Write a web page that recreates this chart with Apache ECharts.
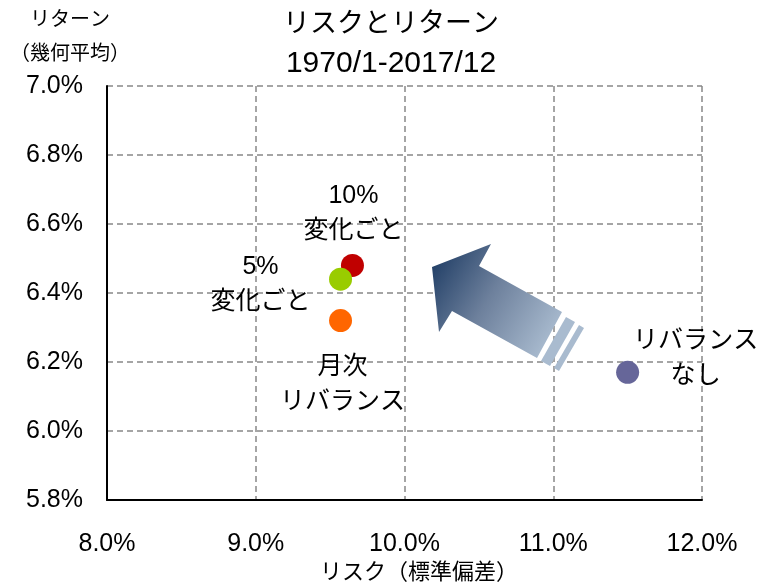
<!DOCTYPE html>
<html>
<head>
<meta charset="utf-8">
<script src="https://cdn.jsdelivr.net/npm/echarts@6/dist/echarts.min.js"></script>
<style>
  html, body { margin: 0; padding: 0; background: #fff; }
  #chart { width: 762px; height: 584px; }
</style>
</head>
<body>
<div id="chart"></div>
<script>
    // values
    const pointNames = ['10%\n変化ごと', '5%\n変化ごと', '月次\nリバランス', 'リバランス\nなし'];
    const riskValues = [9.65, 9.57, 9.57, 11.50];   // リスク（標準偏差） %
    const returnValues = [6.48, 6.44, 6.32, 6.17];  // リターン（幾何平均） %
    const xTicks = [8, 9, 10, 11, 12];
    const yTicks = [5.8, 6.0, 6.2, 6.4, 6.6, 6.8, 7.0];

    // styling per point
    const pointColors = ['#c00000', '#99cc00', '#ff6600', '#666699'];
    const labelOffsets = [[1, -52], [-80, 5], [2, 64], [68, -14]];

    const FONT = "'Liberation Sans', 'Noto Sans CJK JP', sans-serif";

    const myChart = echarts.init(document.getElementById('chart'));

    const option = {
        animation: false,
        textStyle: { fontFamily: FONT, color: '#000' },
        title: {
            left: 391,
            top: 5,
            textAlign: 'center',
            padding: 0,
            text: '{a|リスクとリターン}\n{b|1970/1-2017/12}',
            textStyle: {
                fontWeight: 'normal',
                rich: {
                    a: { fontFamily: FONT, fontSize: 27, lineHeight: 39, color: '#000', fontWeight: 'normal' },
                    b: { fontFamily: FONT, fontSize: 30, lineHeight: 39, color: '#000', fontWeight: 'normal' }
                }
            }
        },
        grid: {
            left: 107,
            right: 60,
            top: 86,
            bottom: 84,
            outerBoundsMode: 'none'
        },
        xAxis: {
            type: 'value',
            min: xTicks[0],
            max: xTicks[xTicks.length - 1],
            interval: 1,
            name: 'リスク（標準偏差）',
            nameLocation: 'middle',
            nameGap: 60,
            nameTextStyle: { fontSize: 22, fontFamily: FONT, color: '#000', padding: [0, 0, 0, 29] },
            axisLine: { lineStyle: { color: '#000', width: 2 } },
            axisTick: { show: false },
            axisLabel: {
                margin: 32,
                fontSize: 25,
                color: '#000',
                formatter: v => v.toFixed(1) + '%'
            },
            splitLine: { lineStyle: { color: '#888', type: [6, 4], width: 1.5 } }
        },
        yAxis: {
            type: 'value',
            min: yTicks[0],
            max: yTicks[yTicks.length - 1],
            interval: 0.2,
            name: 'リターン\n（幾何平均）',
            nameLocation: 'end',
            nameGap: 15,
            nameTextStyle: {
                fontSize: 20, fontFamily: FONT, color: '#000',
                lineHeight: 34, align: 'center', padding: [0, 74, 0, 0]
            },
            axisLine: { show: true, lineStyle: { color: '#000', width: 2 } },
            axisTick: { show: false },
            axisLabel: {
                margin: 24,
                fontSize: 25,
                color: '#000',
                formatter: v => v.toFixed(1) + '%'
            },
            splitLine: { lineStyle: { color: '#888', type: [6, 4], width: 1.5 } }
        },
        series: [
            {
                type: 'scatter',
                symbolSize: 23,
                z: 5,
                data: riskValues.map((x, i) => ({
                    value: [x, returnValues[i]],
                    name: pointNames[i],
                    itemStyle: { color: pointColors[i], opacity: 1 },
                    label: {
                        show: true,
                        position: 'inside',
                        offset: labelOffsets[i],
                        formatter: pointNames[i],
                        fontSize: 25,
                        lineHeight: 35,
                        align: 'center',
                        color: '#000',
                        fontFamily: FONT
                    }
                }))
            }
        ],
        graphic: [
            {
                // arrow pointing toward upper-left
                type: 'polygon',
                z: 10,
                shape: {
                    points: [[432, 267], [491, 244], [479, 266], [562, 312], [537, 358], [452, 311], [439, 332]]
                },
                style: {
                    fill: {
                        type: 'linear', x: 0, y: 0, x2: 1, y2: 0.7,
                        colorStops: [
                            { offset: 0, color: '#17365f' },
                            { offset: 0.5, color: '#6d809c' },
                            { offset: 1, color: '#a9bbcf' }
                        ]
                    }
                }
            },
            {
                type: 'polygon',
                z: 10,
                shape: { points: [[566, 317], [575, 322], [550, 366], [541, 361]] },
                style: { fill: '#a9bbcf' }
            },
            {
                type: 'polygon',
                z: 10,
                shape: { points: [[579, 325], [584, 328], [559, 371], [554, 368]] },
                style: { fill: '#a9bbcf' }
            }
        ]
    };

    myChart.setOption(option);
</script>
</body>
</html>
